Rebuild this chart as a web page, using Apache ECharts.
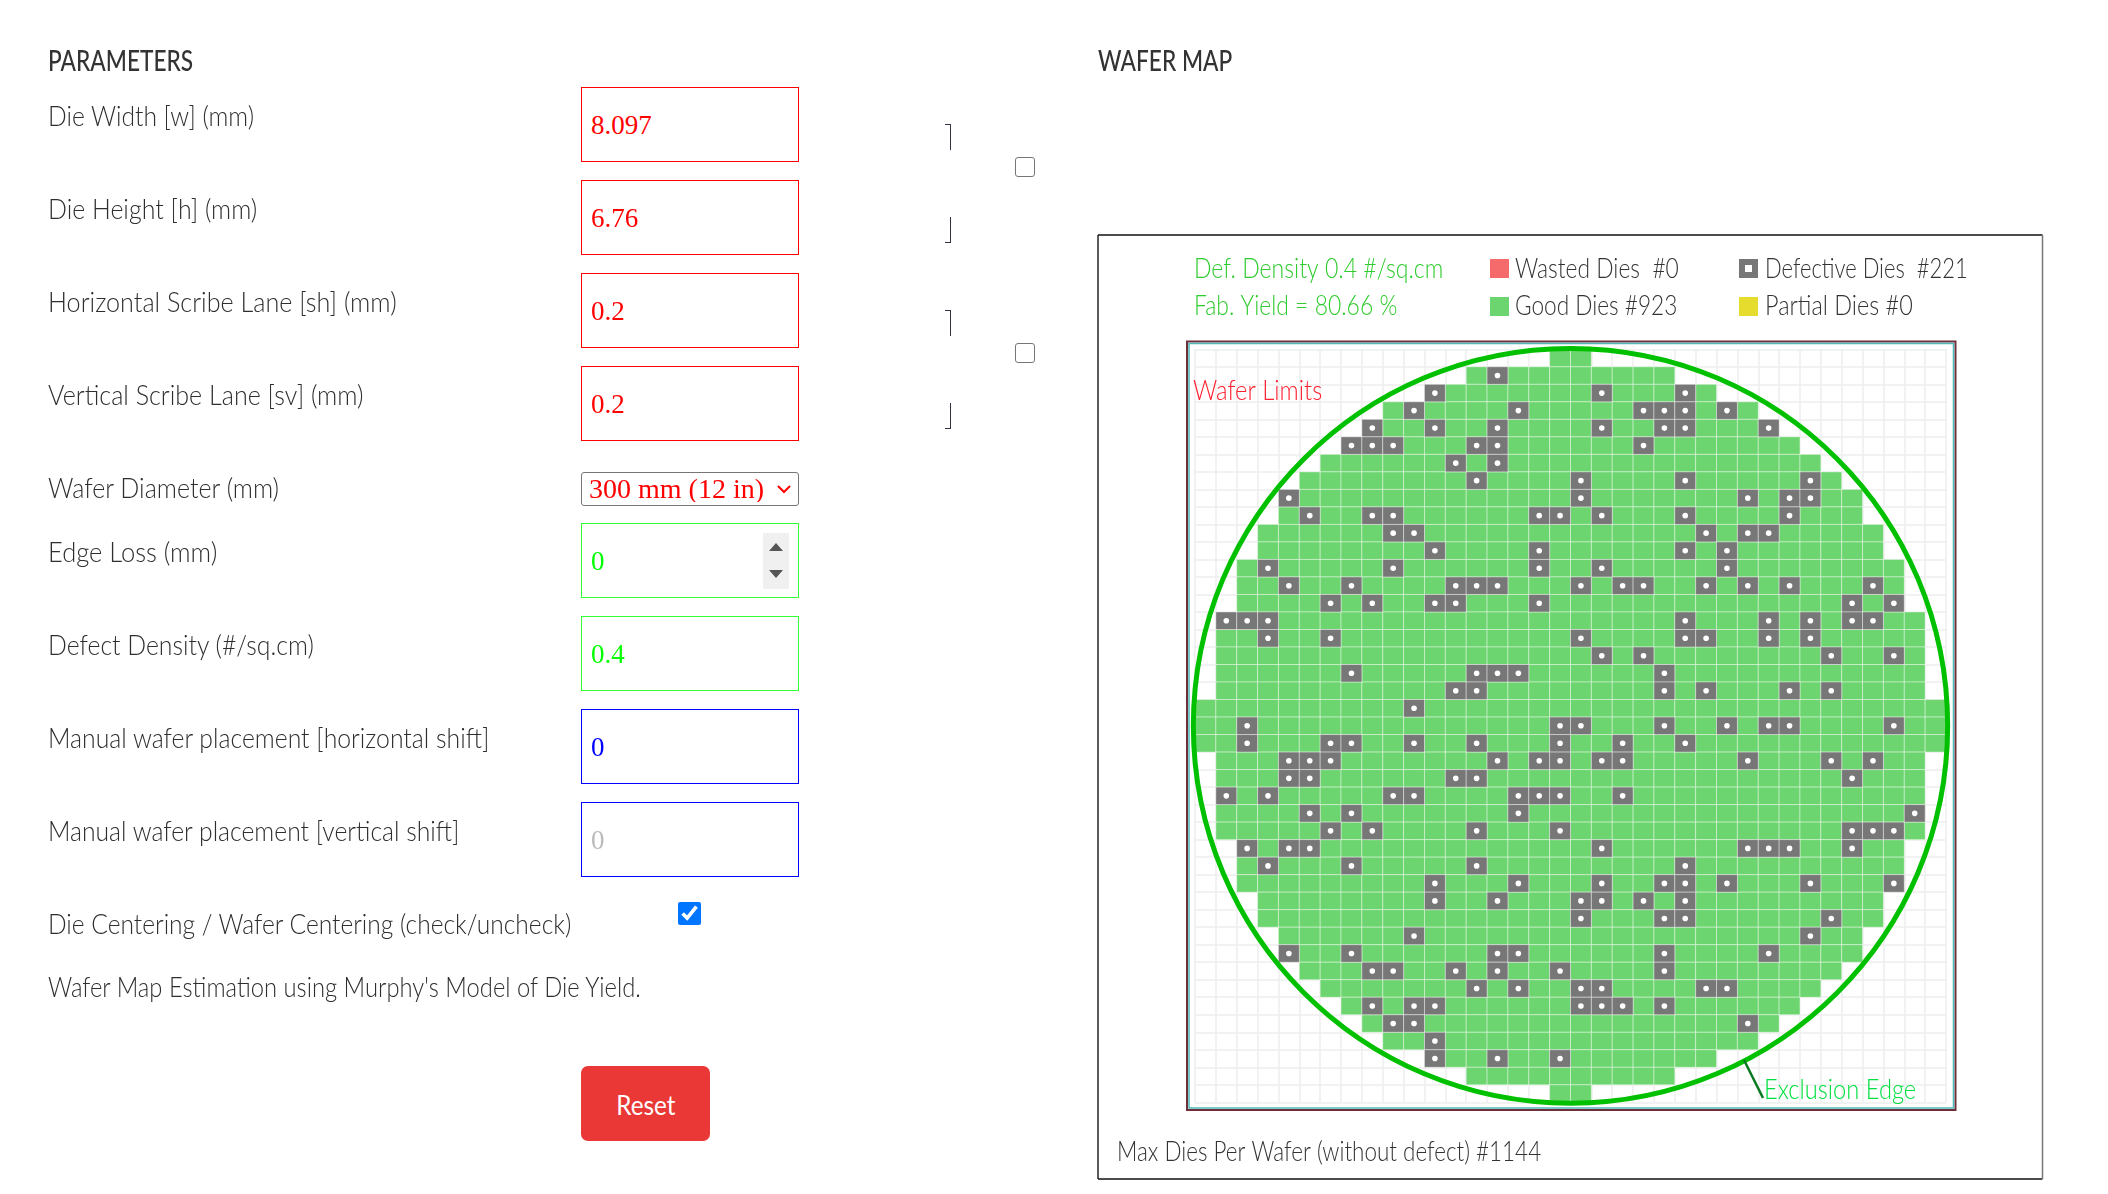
<!DOCTYPE html>
<html lang="en">
<head>
  <meta charset="UTF-8">
  <title>Wafer Map</title>
  <script src="https://cdn.jsdelivr.net/npm/echarts@6/dist/echarts.min.js"></script>
  <style>
    html, body { margin: 0; padding: 0; background: #fff; width: 2108px; height: 1194px; overflow: hidden; }
    #chart { position: absolute; left: 0; top: 0; width: 2108px; height: 1194px; }
    .txt {
      position: absolute;
      left: 48px;
      font: 300 27px/32px Lato, "Noto Sans", sans-serif;
      color: #2e2e2e;
      white-space: nowrap;
      transform-origin: left center;
    }
    .head { font-size: 28px; font-weight: 500; color: #333; transform: scaleX(0.81); }
    .field {
      position: absolute;
      left: 581px;
      width: 217.5px;
      height: 75px;
      box-sizing: border-box;
      border: 1.5px solid #f00;
      padding: 1px 0 0 9px;
      margin: 0;
      outline: none;
      background: #fff;
      font: 27px "Liberation Serif", serif;
      color: #f00;
    }
    .green { border-color: #3f3; color: #0f0; }
    .blue { border-color: #00f; color: #00f; }
    .field::placeholder { color: #bbb; opacity: 1; }
    #wafer-select {
      position: absolute;
      left: 581px;
      top: 471.5px;
      width: 217.5px;
      height: 34px;
      box-sizing: border-box;
      border: 1px solid #767676;
      border-radius: 3px;
      padding: 0 0 3px 7px;
      appearance: none;
      background: #fff url("data:image/svg+xml,%3Csvg xmlns='http://www.w3.org/2000/svg' width='16' height='10'%3E%3Cpath d='M2 2l6 6 6-6' fill='none' stroke='%23f00' stroke-width='2'/%3E%3C/svg%3E") no-repeat 194px 11px;
      font: 28px "Liberation Serif", serif;
      color: #f00;
    }
    .spin { position: absolute; left: 763px; top: 533px; width: 26px; height: 56px; background: #f0f0f0; }
    .spin i { position: absolute; left: 6px; width: 0; height: 0; border-left: 7px solid transparent; border-right: 7px solid transparent; }
    .spin .up { top: 10px; border-bottom: 8px solid #555; }
    .spin .down { top: 37px; border-top: 8px solid #555; }
    .tick { position: absolute; left: 945px; width: 5px; height: 25px; border-right: 1.5px solid #334; }
    .tick.a { border-top: 1.5px solid #334; }
    .tick.b { border-bottom: 1.5px solid #334; }
    .box { position: absolute; left: 1015px; width: 20px; height: 20px; box-sizing: border-box; border: 1.5px solid #767676; border-radius: 3px; background: #fff; }
    #centering { position: absolute; left: 678px; top: 902px; width: 23px; height: 23px; margin: 0; accent-color: #0075ff; }
    #reset {
      position: absolute;
      left: 581px;
      top: 1066px;
      width: 129px;
      height: 75px;
      border: none;
      border-radius: 7px;
      padding: 1px 0 0 0;
      background: #e93835;
      color: #fff;
      font: 27px Lato, sans-serif;
    }
    #reset span { display: inline-block; transform: scaleX(0.9); }
  </style>
</head>
<body>
  <div id="chart"></div>

  <div class="txt head" style="top:44px">PARAMETERS</div>
  <div class="txt head" style="top:44px;left:1098px">WAFER MAP</div>

  <div class="txt" style="top:100px;transform:scaleX(.912)">Die Width [w] (mm)</div>
  <div class="txt" style="top:193px;transform:scaleX(.923)">Die Height [h] (mm)</div>
  <div class="txt" style="top:286px;transform:scaleX(.932)">Horizontal Scribe Lane [sh] (mm)</div>
  <div class="txt" style="top:379px;transform:scaleX(.93)">Vertical Scribe Lane [sv] (mm)</div>
  <div class="txt" style="top:472px;transform:scaleX(.927)">Wafer Diameter (mm)</div>
  <div class="txt" style="top:536px;transform:scaleX(.945)">Edge Loss (mm)</div>
  <div class="txt" style="top:629px;transform:scaleX(.918)">Defect Density (#/sq.cm)</div>
  <div class="txt" style="top:722px;transform:scaleX(.917)">Manual wafer placement [horizontal shift]</div>
  <div class="txt" style="top:815px;transform:scaleX(.915)">Manual wafer placement [vertical shift]</div>
  <div class="txt" style="top:908px;transform:scaleX(.909)">Die Centering / Wafer Centering (check/uncheck)</div>
  <div class="txt" style="top:971px;transform:scaleX(.88)">Wafer Map Estimation using Murphy's Model of Die Yield.</div>

  <input class="field" style="top:87px" value="8.097">
  <input class="field" style="top:180px" value="6.76">
  <input class="field" style="top:273px" value="0.2">
  <input class="field" style="top:366px" value="0.2">
  <select id="wafer-select"><option>300 mm (12 in)</option></select>
  <input class="field green" style="top:523px" value="0">
  <div class="spin"><i class="up"></i><i class="down"></i></div>
  <input class="field green" style="top:616px" value="0.4">
  <input class="field blue" style="top:709px" value="0">
  <input class="field blue" style="top:802px" placeholder="0">
  <input id="centering" type="checkbox" checked>
  <button id="reset"><span>Reset</span></button>

  <div class="tick a" style="top:124px"></div>
  <div class="tick b" style="top:217px"></div>
  <div class="tick a" style="top:310px"></div>
  <div class="tick b" style="top:403px"></div>
  <div class="box" style="top:157px"></div>
  <div class="box" style="top:343px"></div>

<script>
  // die pitch and wafer size in mm
  const dieWidth = 8.097;
  const dieHeight = 6.76;
  const scribeH = 0.2;
  const scribeV = 0.2;
  const waferDiameter = 300;

  const defectDensity = 0.4;
  const fabYield = 80.66;
  const wastedDies = 0;
  const goodDies = 923;
  const defectiveDies = 221;
  const partialDies = 0;
  const maxDies = 1144;

  const gridCols = 36;
  const gridRows = 43;

  // first and last die column on each row, top to bottom
  const rowFirst = [17,13,11,9,8,7,6,5,4,4,3,3,2,2,2,1,1,1,1,1,0,0,0,1,1,1,1,1,2,2,2,3,3,4,4,5,6,7,8,9,11,13,17];
  const rowLast = [18,22,24,26,27,28,29,30,31,31,32,32,33,33,33,34,34,34,34,34,35,35,35,34,34,34,34,34,33,33,33,32,32,31,31,30,29,28,27,26,24,22,18];

  // defective die columns on each row
  const defectCols = [
    [], [14], [11,19,23], [10,15,21,22,23,25], [8,11,14,19,22,23,27],
    [7,8,9,13,14,21], [12,14], [13,18,23,29], [4,18,26,28,29], [5,8,9,16,17,19,23,28],
    [9,10,24,26,27], [11,16,23,25], [3,9,16,19,25], [4,7,12,13,14,18,20,21,24,26,28,32], [6,8,11,12,16,31,33],
    [1,2,3,23,27,29,31,32], [3,6,18,23,24,27,29], [19,21,30,33], [7,13,14,15,22], [12,13,22,24,28,30],
    [10], [2,17,18,22,25,27,28,33], [2,6,7,10,13,17,20,23], [4,5,6,14,16,17,19,20,26,30,32], [4,5,12,13,31],
    [1,3,9,10,15,16,17,20], [5,7,15,34], [6,8,13,17,31,32,33], [2,4,5,19,26,27,28,31], [3,7,13,23],
    [11,15,19,22,23,25,29,33], [11,14,18,19,21,23], [18,22,23,30], [10,29], [4,7,14,15,22,27],
    [8,9,12,14,17,22], [13,15,18,19,24,25], [8,10,11,18,19,20,22], [9,10,26], [11],
    [11,14,17], [], []
  ];

  const GOOD = '#6dd56f';
  const DEFECT = '#777777';
  const FONT = '300 27px Lato, "Noto Sans", sans-serif';

  const goodData = [];
  const defectData = [];
  rowFirst.forEach((first, row) => {
    for (let col = first; col <= rowLast[row]; col++) {
      if (defectCols[row].includes(col)) defectData.push([col, row]);
      else goodData.push([col, row]);
    }
  });

  function dieRect(api, fill) {
    const p = api.coord([api.value(0), api.value(1)]);
    const s = api.size([1, 1]);
    return {
      type: 'rect',
      shape: { x: p[0], y: p[1], width: s[0], height: s[1] },
      style: { fill: fill, stroke: 'rgba(255,255,255,0.4)', lineWidth: 1 }
    };
  }

  function renderGood(params, api) {
    return dieRect(api, GOOD);
  }

  function renderDefect(params, api) {
    const rect = dieRect(api, DEFECT);
    return {
      type: 'group',
      children: [
        rect,
        {
          type: 'circle',
          shape: { cx: rect.shape.x + rect.shape.width / 2, cy: rect.shape.y + rect.shape.height / 2, r: 2.8 },
          style: { fill: '#fff' }
        }
      ]
    };
  }

  // wafer outline, radius worked out from the die pitch
  function renderWafer(params, api) {
    const c = api.coord([api.value(0), api.value(1)]);
    const pitchX = dieWidth + scribeV;
    const pitchY = dieHeight + scribeH;
    const s = api.size([waferDiameter / 2 / pitchX, waferDiameter / 2 / pitchY]);
    return {
      type: 'ellipse',
      shape: { cx: c[0], cy: c[1], rx: s[0], ry: s[1] },
      style: { fill: 'none', stroke: '#00c000', lineWidth: 5 }
    };
  }

  function label(x, y, text, color, scale) {
    return {
      type: 'text',
      x: x,
      y: y,
      scaleX: scale,
      z: 10,
      style: { text: text, fill: color, font: FONT, textVerticalAlign: 'middle' }
    };
  }

  function swatch(x, y, color) {
    return { type: 'rect', shape: { x: x, y: y, width: 19, height: 19 }, style: { fill: color } };
  }

  function edge(x1, y1, x2, y2, color) {
    return { type: 'line', shape: { x1: x1, y1: y1, x2: x2, y2: y2 }, style: { stroke: color, lineWidth: 1.5 }, z: 0 };
  }

  const chart = echarts.init(document.getElementById('chart'));
  chart.setOption({
    animation: false,
    grid: { left: 1195, top: 349.3, width: 751, height: 753 },
    xAxis: {
      type: 'value', min: 0, max: gridCols, interval: 1,
      axisLine: { show: false }, axisTick: { show: false }, axisLabel: { show: false },
      splitLine: { show: true, lineStyle: { color: '#eeeeee', width: 1.5 } }
    },
    yAxis: {
      type: 'value', inverse: true, min: 0, max: gridRows, interval: 1,
      axisLine: { show: false }, axisTick: { show: false }, axisLabel: { show: false },
      splitLine: { show: true, lineStyle: { color: '#eeeeee', width: 1.5 } }
    },
    series: [
      { name: 'Good Dies', type: 'custom', renderItem: renderGood, data: goodData, z: 2, silent: true },
      { name: 'Defective Dies', type: 'custom', renderItem: renderDefect, data: defectData, z: 3, silent: true },
      { name: 'Wafer', type: 'custom', renderItem: renderWafer, data: [[gridCols / 2, gridRows / 2]], z: 4, silent: true, clip: false }
    ],
    graphic: [
      // outer card, right side is lighter in the screenshot
      edge(1098, 235, 2042.5, 235, '#111'),
      edge(1098, 1179, 2042.5, 1179, '#111'),
      edge(1098, 235, 1098, 1179, '#222'),
      edge(2042.5, 235, 2042.5, 1179, '#777'),
      // plot frame, two colours
      { type: 'rect', shape: { x: 1187, y: 341.5, width: 768.5, height: 768.5 }, style: { fill: 'none', stroke: '#6e2f3a', lineWidth: 2 }, z: 0 },
      { type: 'rect', shape: { x: 1189, y: 343.5, width: 764.5, height: 764.5 }, style: { fill: 'none', stroke: '#4fb8b8', lineWidth: 1.5 }, z: 0 },

      label(1194, 269, 'Def. Density ' + defectDensity + ' #/sq.cm', '#2ecc2e', 0.854),
      label(1194, 306, 'Fab. Yield = ' + fabYield + ' %', '#2ecc2e', 0.849),

      swatch(1490, 259, '#f56b6b'),
      label(1515, 269, 'Wasted Dies  #' + wastedDies, '#333', 0.845),
      swatch(1490, 297, GOOD),
      label(1515, 306, 'Good Dies #' + goodDies, '#333', 0.838),

      swatch(1739, 259, DEFECT),
      { type: 'rect', shape: { x: 1745, y: 265, width: 7, height: 7 }, style: { fill: '#fff' } },
      label(1765, 269, 'Defective Dies  #' + defectiveDies, '#333', 0.813),
      swatch(1739, 297, '#e6dc2e'),
      label(1765, 306, 'Partial Dies #' + partialDies, '#333', 0.868),

      label(1193, 391, 'Wafer Limits', '#ff2030', 0.881),
      { type: 'line', shape: { x1: 1744, y1: 1060, x2: 1763, y2: 1098 }, style: { stroke: '#0a7a20', lineWidth: 2.5 }, z: 10 },
      label(1764, 1090, 'Exclusion Edge', '#00e040', 0.877),

      label(1117, 1152, 'Max Dies Per Wafer (without defect) #' + maxDies, '#333', 0.831)
    ]
  });
</script>
</body>
</html>
